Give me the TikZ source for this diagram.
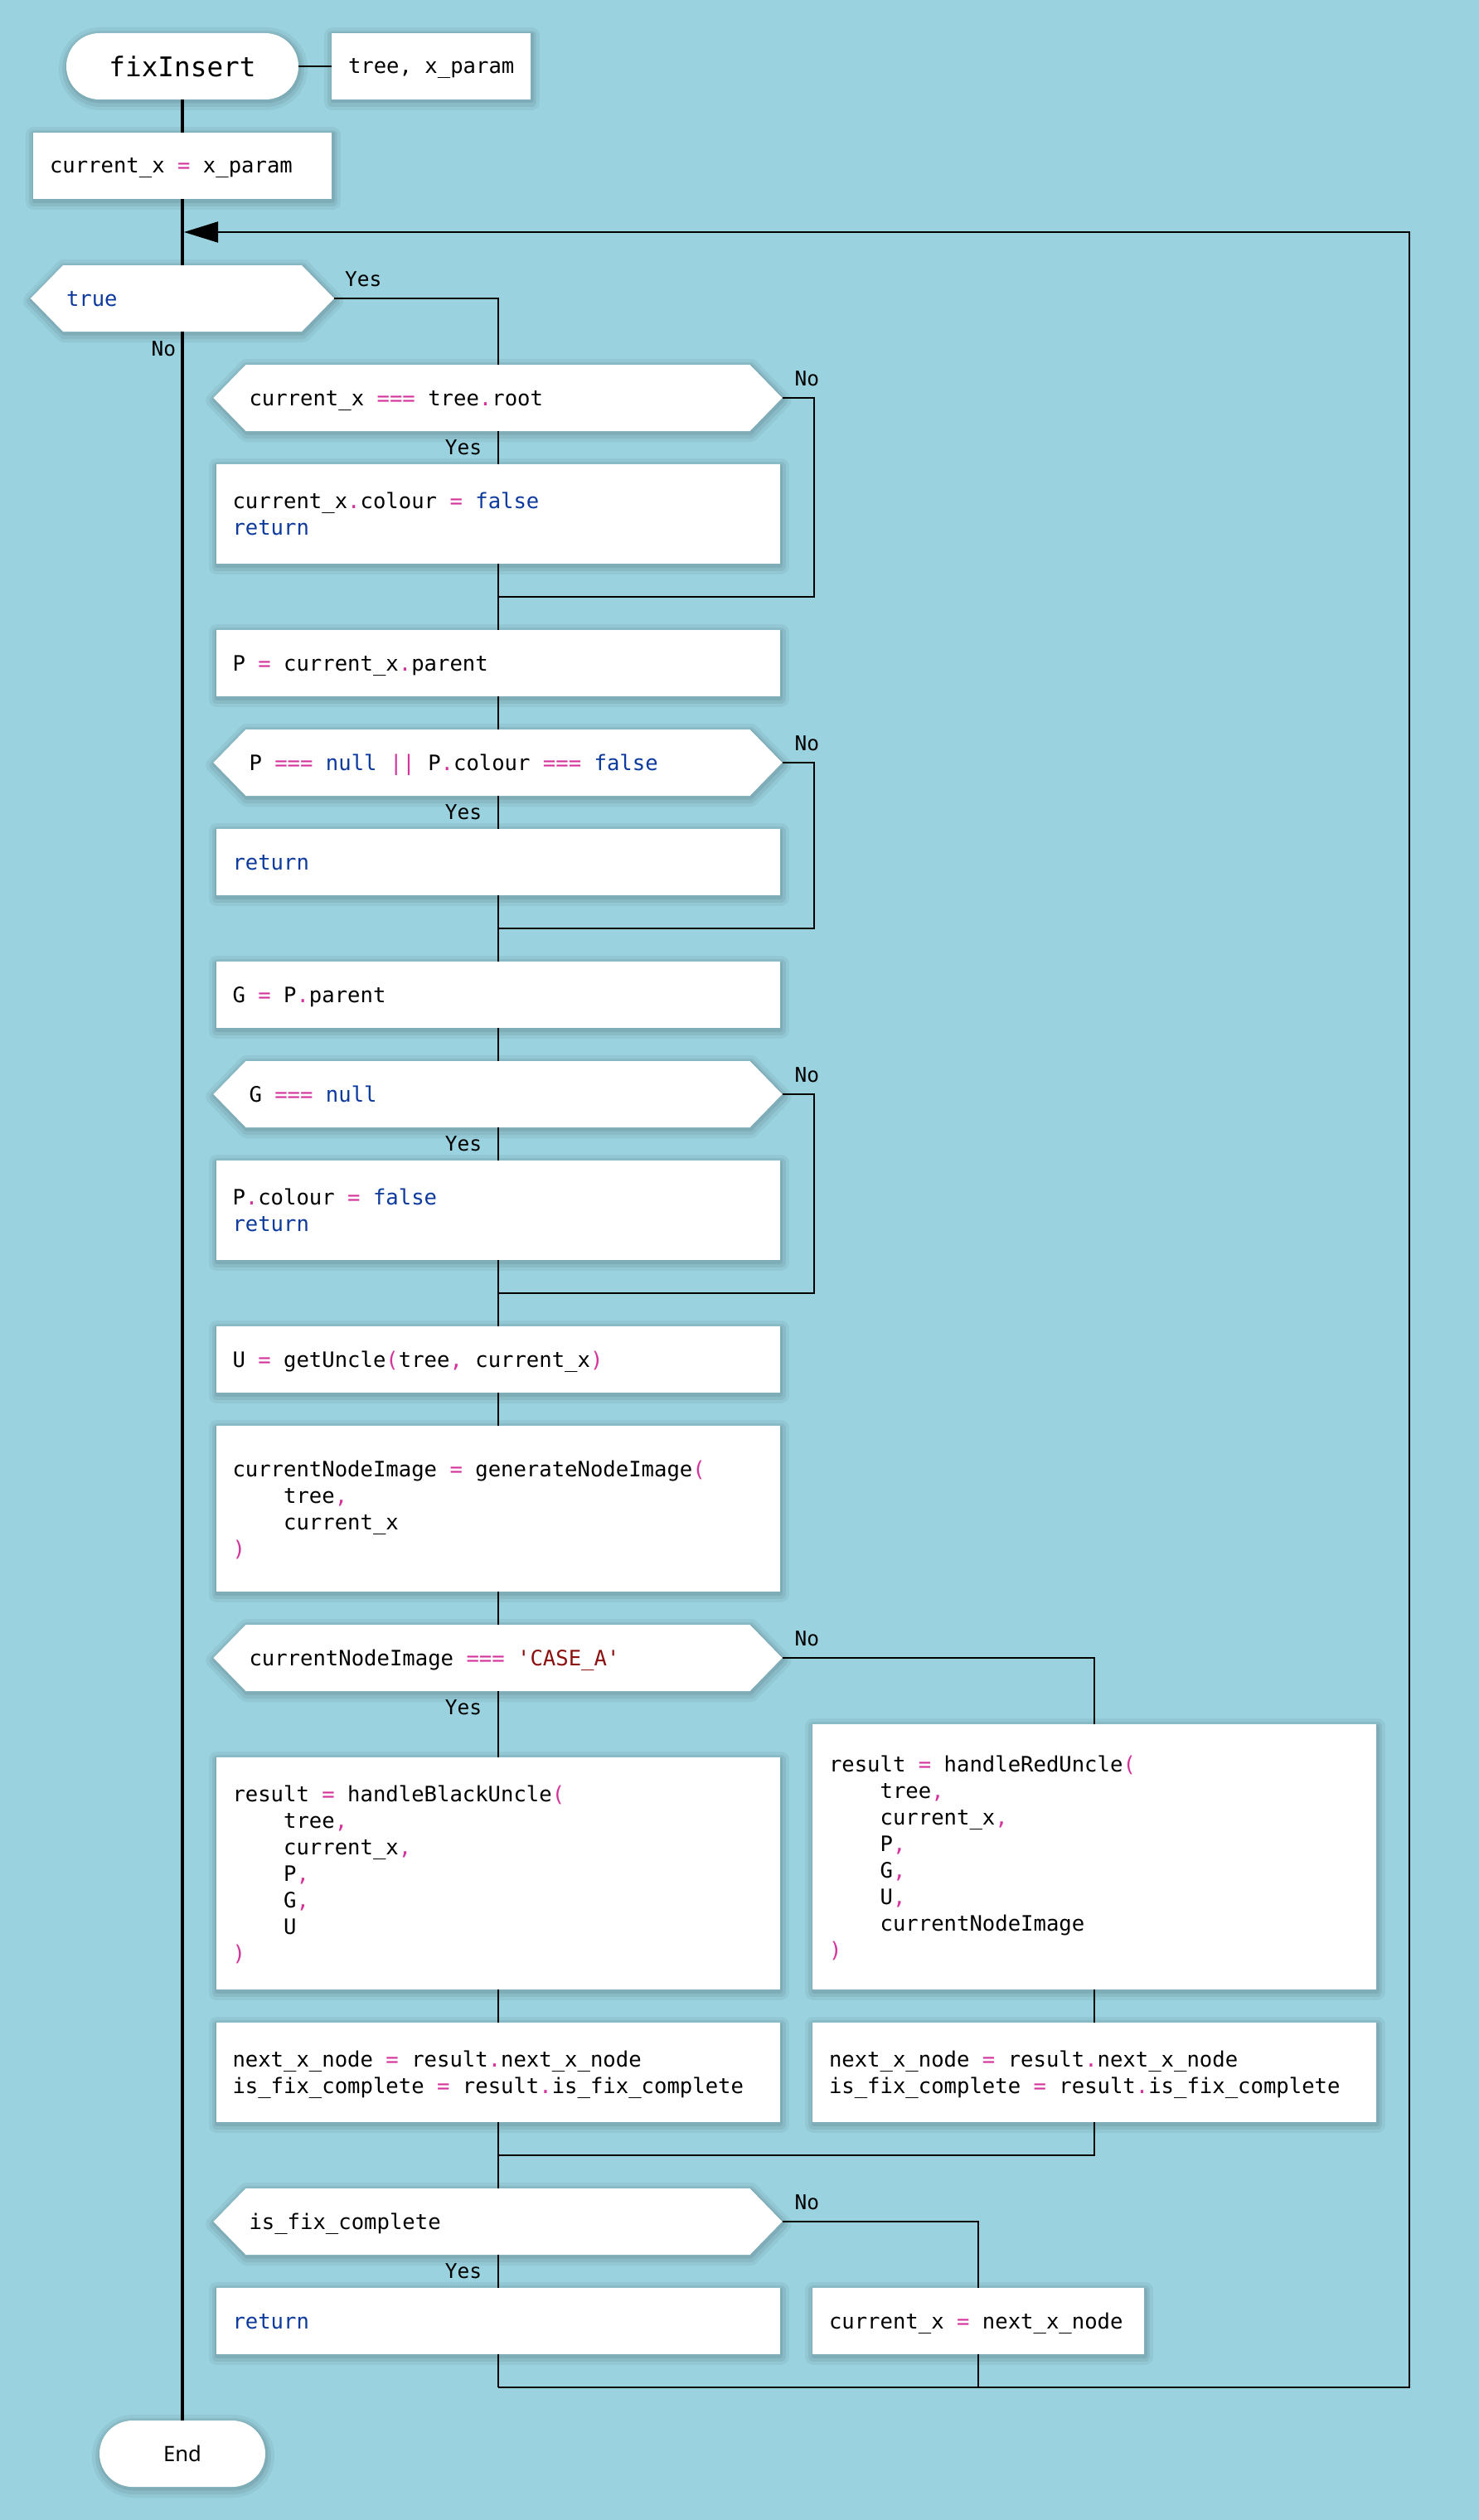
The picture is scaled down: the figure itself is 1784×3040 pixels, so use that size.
\documentclass[tikz,border=0pt]{standalone}
\usepackage{fontspec}
\setmainfont{Noto Sans}
\setmonofont{DejaVu Sans Mono}
\usetikzlibrary{calc,arrows.meta,shapes.misc}

\definecolor{bgc}{HTML}{9AD2E0}
\definecolor{opc}{HTML}{D4339B}
\definecolor{kwc}{HTML}{0D3A9C}
\definecolor{strc}{HTML}{8B1010}

% syntax colouring helpers
\newcommand\opx[1]{\textcolor{opc}{#1}}
\newcommand\kwx[1]{\textcolor{kwc}{#1}}
\newcommand\strx[1]{\textcolor{strc}{#1}}
\newcommand\quo{\char"27\relax}
% a space exactly one character wide
\newcommand\fixedspace{\spaceskip=\fontcharwd\font`0\relax\xspaceskip=\spaceskip}
\newcommand\codefont{\ttfamily\fontsize{25.6}{32}\selectfont\fixedspace}
\newcommand\indt{\phantom{0000}}
\newcommand\cstrut{\rule[-7pt]{0pt}{32pt}}

\tikzset{
  soft/.style={
    preaction={fill=none, draw=black, draw opacity=0.05, line width=20pt, line join=round,
      transform canvas={shift={(1pt,-3pt)}}},
    preaction={fill=none, draw=black, draw opacity=0.06, line width=12pt, line join=round,
      transform canvas={shift={(1pt,-3pt)}}},
    preaction={fill=none, draw=black, draw opacity=0.08, line width=5pt, line join=round,
      transform canvas={shift={(1pt,-2pt)}}}},
  box/.style={rectangle, fill=white, soft, inner xsep=20pt, inner ysep=0pt,
      align=left, font=\codefont, text width=#1,
      execute at begin node=\fixedspace\cstrut, execute at end node=\cstrut},
  dec/.style={rectangle, inner xsep=43pt, inner ysep=0pt, minimum height=80pt,
      align=left, font=\codefont,
      execute at begin node=\fixedspace\cstrut, execute at end node=\cstrut},
  term/.style={rounded rectangle, fill=white, soft, minimum height=80pt, inner sep=0pt},
  flow/.style={line width=2pt},
  spine/.style={line width=4pt},
  lbl/.style={inner sep=0pt, font=\ttfamily\fontsize{24.5}{24}\selectfont},
}

% decision: white hexagon, then its text node on top
% #1 name, #2 x, #3 y, #4 width, #5 text
\newcommand\decision[5]{%
  \fill[white, soft] ({#2-#4/2+39},{#3-40}) -- ({#2+#4/2-39},{#3-40}) -- ({#2+#4/2},#3)
    -- ({#2+#4/2-39},{#3+40}) -- ({#2-#4/2+39},{#3+40}) -- ({#2-#4/2},#3) -- cycle;
  \node[dec, text width={#4-86}] (#1) at (#2,#3) {#5};}

\begin{document}
\begin{tikzpicture}[x=1pt, y=-1pt]
\fill[bgc] (0,0) rectangle (1784,3040);
\useasboundingbox (0,0) rectangle (1784,3040);

% ---- nodes ----
\node[term, minimum width=280pt, font=\ttfamily\fontsize{32.7}{36}\selectfont] (start) at (220,80) {fixInsert};
\node[box=200pt, minimum height=80pt] (params) at (520,80) {\mbox{tree, x\_param}};
\node[box=320pt, minimum height=80pt] (init) at (220,200) {current\_x \opx{=} x\_param};

\decision{dtrue}{220}{360}{366}{\kwx{true}}

\decision{d1}{600.5}{480}{686}{current\_x \opx{===} tree\opx{.}root}
\node[box=640pt, minimum height=120pt] (b1) at (600.5,620)
  {current\_x\opx{.}colour \opx{=} \kwx{false}\\\kwx{return}};

\node[box=640pt, minimum height=80pt] (b2) at (600.5,800) {P \opx{=} current\_x\opx{.}parent};
\decision{d2}{600.5}{920}{686}{P \opx{===} \kwx{null} \opx{||} P\opx{.}colour \opx{===} \kwx{false}}
\node[box=640pt, minimum height=80pt] (b3) at (600.5,1040) {\kwx{return}};

\node[box=640pt, minimum height=80pt] (b4) at (600.5,1200) {G \opx{=} P\opx{.}parent};
\decision{d3}{600.5}{1320}{686}{G \opx{===} \kwx{null}}
\node[box=640pt, minimum height=120pt] (b5) at (600.5,1460)
  {P\opx{.}colour \opx{=} \kwx{false}\\\kwx{return}};

\node[box=640pt, minimum height=80pt] (b6) at (600.5,1640)
  {U \opx{=} getUncle\opx{(}tree\opx{,} current\_x\opx{)}};
\node[box=640pt, minimum height=200pt] (b7) at (600.5,1820)
  {currentNodeImage \opx{=} generateNodeImage\opx{(}\\
   \indt tree\opx{,}\\
   \indt current\_x\\
   \opx{)}};

\decision{d4}{600.5}{2000}{686}{currentNodeImage \opx{===} \strx{\quo CASE\_A\quo}}

\node[box=640pt, minimum height=280pt] (b8) at (600.5,2260)
  {result \opx{=} handleBlackUncle\opx{(}\\
   \indt tree\opx{,}\\
   \indt current\_x\opx{,}\\
   \indt P\opx{,}\\
   \indt G\opx{,}\\
   \indt U\\
   \opx{)}};
\node[box=640pt, minimum height=320pt] (b9) at (1320,2240)
  {result \opx{=} handleRedUncle\opx{(}\\
   \indt tree\opx{,}\\
   \indt current\_x\opx{,}\\
   \indt P\opx{,}\\
   \indt G\opx{,}\\
   \indt U\opx{,}\\
   \indt currentNodeImage\\
   \opx{)}};

\node[box=640pt, minimum height=120pt] (b10) at (600.5,2500)
  {next\_x\_node \opx{=} result\opx{.}next\_x\_node\\
   is\_fix\_complete \opx{=} result\opx{.}is\_fix\_complete};
\node[box=640pt, minimum height=120pt] (b11) at (1320,2500)
  {next\_x\_node \opx{=} result\opx{.}next\_x\_node\\
   is\_fix\_complete \opx{=} result\opx{.}is\_fix\_complete};

\decision{d5}{600.5}{2680}{686}{is\_fix\_complete}
\node[box=640pt, minimum height=80pt] (b12) at (600.5,2800) {\kwx{return}};
\node[box=360pt, minimum height=80pt] (b13) at (1180,2800)
  {current\_x \opx{=} next\_x\_node};

\node[term, minimum width=200pt, font=\fontsize{25.6}{30}\selectfont] (end) at (220,2960) {End};

% loop return points
\coordinate (loopB) at (600.5,2880);
\coordinate (loopR) at (1700,2880);
\coordinate (loopT) at (1700,280);
\coordinate (join) at (222,280);

% ---- connectors ----
\draw[flow] (start.east) -- (params.west);
\draw[spine] (start.south) -- (init.north);
\draw[spine] (init.south) -- (dtrue.north);
\draw[spine] (dtrue.south) node[lbl, anchor=north east, xshift=-6pt, yshift=-9pt] (nTrue) {No}
  -- (end.north);
\draw[flow] (dtrue.east) node[lbl, anchor=south west, xshift=12pt, yshift=13pt] (yTrue) {Yes}
  -| (d1.north);

\draw[flow] (d1.south) node[lbl, anchor=north east, xshift=-18.5pt, yshift=-9pt] (y1) {Yes}
  -- (b1.north);
\draw[flow] (b1.south) -- (b2.north);
\draw[flow] (d1.east) node[lbl, anchor=south west, xshift=14pt, yshift=13pt] (n1) {No}
  -- ++(38,0) |- ($(b1.south)!.5!(b2.north)$);

\draw[flow] (b2.south) -- (d2.north);
\draw[flow] (d2.south) node[lbl, anchor=north east, xshift=-18.5pt, yshift=-9pt] (y2) {Yes}
  -- (b3.north);
\draw[flow] (b3.south) -- (b4.north);
\draw[flow] (d2.east) node[lbl, anchor=south west, xshift=14pt, yshift=13pt] (n2) {No}
  -- ++(38,0) |- ($(b3.south)!.5!(b4.north)$);

\draw[flow] (b4.south) -- (d3.north);
\draw[flow] (d3.south) node[lbl, anchor=north east, xshift=-18.5pt, yshift=-9pt] (y3) {Yes}
  -- (b5.north);
\draw[flow] (b5.south) -- (b6.north);
\draw[flow] (d3.east) node[lbl, anchor=south west, xshift=14pt, yshift=13pt] (n3) {No}
  -- ++(38,0) |- ($(b5.south)!.5!(b6.north)$);

\draw[flow] (b6.south) -- (b7.north);
\draw[flow] (b7.south) -- (d4.north);
\draw[flow] (d4.south) node[lbl, anchor=north east, xshift=-18.5pt, yshift=-9pt] (y4) {Yes}
  -- (b8.north);
\draw[flow] (d4.east) node[lbl, anchor=south west, xshift=14pt, yshift=13pt] (n4) {No}
  -| (b9.north);
\draw[flow] (b8.south) -- (b10.north);
\draw[flow] (b9.south) -- (b11.north);
\draw[flow] (b10.south) -- (d5.north);
\draw[flow] (b11.south) |- ($(b10.south)!.5!(d5.north)$);

\draw[flow] (d5.south) node[lbl, anchor=north east, xshift=-18.5pt, yshift=-9pt] (y5) {Yes}
  -- (b12.north);
\draw[flow] (d5.east) node[lbl, anchor=south west, xshift=14pt, yshift=13pt] (n5) {No}
  -| (b13.north);
\draw[flow] (b12.south) -- (loopB);
\draw[flow] (b13.south) -- (b13.south |- loopB);
\draw[flow, -{Triangle[length=41pt, width=25pt]}] (loopB) -- (loopR) -- (loopT) -- (join);
\end{tikzpicture}
\end{document}
